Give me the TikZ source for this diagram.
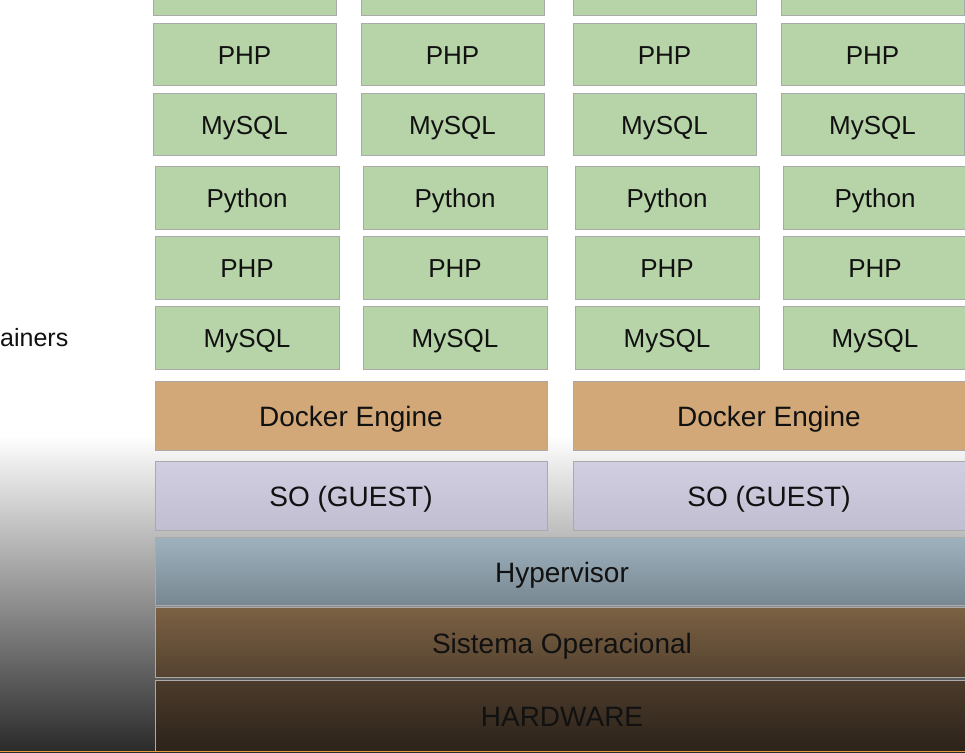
\documentclass[tikz,border=0pt]{standalone}
\usepackage{fontspec}
\setmainfont{Liberation Sans}
\usetikzlibrary{positioning}

\definecolor{appgreen}{RGB}{183,211,168}
\definecolor{dockertan}{RGB}{210,168,120}
\definecolor{guesttop}{RGB}{210,206,226}
\definecolor{guestbot}{RGB}{194,190,210}
\definecolor{hyptop}{RGB}{158,178,189}
\definecolor{hypbot}{RGB}{120,135,146}
\definecolor{sotop}{RGB}{124,97,68}
\definecolor{sobot}{RGB}{84,66,47}
\definecolor{hwtop}{RGB}{76,59,43}
\definecolor{hwbot}{RGB}{44,35,26}
\definecolor{boxline}{RGB}{170,170,170}
\definecolor{txt}{RGB}{17,17,17}
\definecolor{bgdark}{RGB}{42,42,42}
\definecolor{orangeline}{RGB}{232,154,60}

\begin{document}
\begin{tikzpicture}[x=1pt, y=-1pt]

        \def\colw{183}          % width of a container box
        \def\rowh{62}           % height of a container box
        \def\layh{69}           % height of a layer
        \tikzstyle{app}=[rectangle,draw=boxline,fill=appgreen,text=txt,minimum width=\colw pt,minimum height=\rowh pt,inner sep=0pt,text height=20.5pt,text depth=0pt]
        \tikzstyle{layer}=[rectangle,draw=boxline,text=txt,minimum height=\layh pt,inner sep=0pt,text height=22pt,text depth=0pt]
        \tikzset{fontscale/.style = {font={\fontsize{#1pt}{#1pt}\selectfont}}}

        \useasboundingbox (0,0) rectangle (965,752);
        \clip (0,0) rectangle (965,752);

        % Background
        \fill[white] (0,0) rectangle (965,435);
        \shade[top color=white, bottom color=bgdark] (0,435) rectangle (965,752);

        % Draw the label
        \node[fontscale=25, anchor=west, inner sep=0pt, text=txt] (Lab) at (0,338) {ainers};

        % Draw the upper containers
        \foreach \c / \xc in {1/244.5, 2/452.5, 3/664.5, 4/872.5}{
                \foreach \r / \name / \yc in {0/Python/-16, 1/PHP/54, 2/MySQL/124}
                    \node[app,fontscale=26] (Up-\c-\r) at (\xc,\yc) {\name};
        }

        % Draw the lower containers
        \foreach \c / \xc in {1/247, 2/455, 3/667, 4/875}{
                \foreach \r / \name / \yc in {0/Python/197.5, 1/PHP/267.5, 2/MySQL/337.5}
                    \node[app,fontscale=26,minimum width=184pt,minimum height=63pt] (Lo-\c-\r) at (\xc,\yc) {\name};
        }

        % Draw the docker engines
        \node[layer,fill=dockertan,minimum width=392pt,fontscale=28] (De-1) at (351,415.5) {Docker Engine};
        \node[layer,fill=dockertan,minimum width=392pt,fontscale=28] (De-2) at (769,415.5) {Docker Engine};

        % Draw the guest systems
        \node[layer,top color=guesttop,bottom color=guestbot,minimum width=392pt,fontscale=28] (Gs-1) at (351,495.5) {SO (GUEST)};
        \node[layer,top color=guesttop,bottom color=guestbot,minimum width=392pt,fontscale=28] (Gs-2) at (769,495.5) {SO (GUEST)};

        % Draw the host layers
        \node[layer,top color=hyptop,bottom color=hypbot,minimum width=814pt,minimum height=68pt,fontscale=28] (Hyp) at (562,571) {Hypervisor};
        \node[layer,top color=sotop,bottom color=sobot,minimum width=814pt,minimum height=70pt,fontscale=28] (Sop) at (562,642) {Sistema Operacional};
        \node[layer,top color=hwtop,bottom color=hwbot,minimum width=814pt,minimum height=71pt,fontscale=28] (Hw) at (562,715.5) {HARDWARE};

        \draw[orangeline, line width=1.5pt] (0,751.5) -- (965,751.5);

\end{tikzpicture}
\end{document}
